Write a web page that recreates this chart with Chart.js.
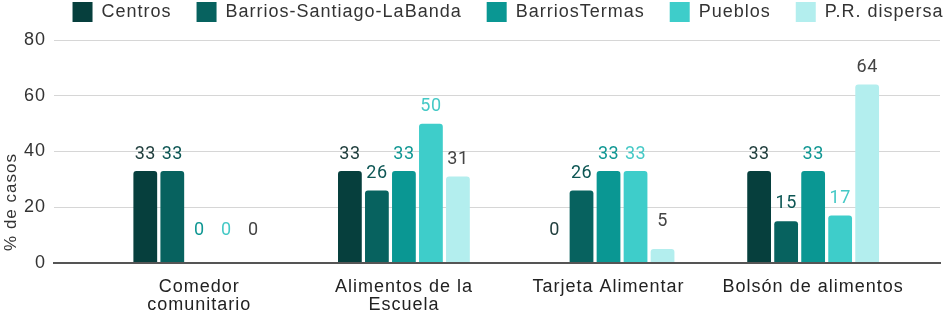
<!DOCTYPE html>
<html>
<head>
<meta charset="utf-8">
<script src="https://cdn.jsdelivr.net/npm/chart.js@4.4.1/dist/chart.umd.min.js"></script>
<style>
  html, body { margin: 0; padding: 0; background: #fff; overflow: hidden; }
  canvas { display: block; }
</style>
</head>
<body>
<canvas id="c" width="952" height="329"></canvas>
<script>
const categories = [["Comedor", "comunitario"], ["Alimentos de la", "Escuela"], "Tarjeta Alimentar", "Bolsón de alimentos"];
const seriesNames = ["Centros", "Barrios-Santiago-LaBanda", "BarriosTermas", "Pueblos", "P.R. dispersa"];
const centros = [33, 33, 0, 33];
const barriosSantiago = [33, 26, 26, 15];
const barriosTermas = [0, 33, 33, 33];
const pueblos = [0, 50, 33, 17];
const prDispersa = [0, 31, 5, 64];
const yTicks = [0, 20, 40, 60, 80];

const barColors = ["#063f3d", "#07625f", "#0a9793", "#3ecdca", "#b3eeee"];
const labelColors = ["#213f3e", "#0d5654", "#109793", "#45c9c6", "#444444"];
const allSeries = [centros, barriosSantiago, barriosTermas, pueblos, prDispersa];

// the original text is a little wider than the local fonts
const spacing = {
  id: "spacing",
  beforeLayout(chart) { chart.ctx.letterSpacing = "1px"; },
  beforeDraw(chart) {
    chart.ctx.letterSpacing = "1px";
    // legend in the original sits right of centre, runs off the edge and hugs the top
    const lg = chart.legend;
    if (lg && !lg._shifted) {
      lg.left += 30;
      lg.right += 30;
      lg.top -= 8;
      lg.bottom -= 8;
      lg._shifted = true;
    }
  },
};

const valueLabels = {
  id: "valueLabels",
  afterDatasetsDraw(chart) {
    const ctx = chart.ctx;
    const y = chart.scales.y;
    ctx.save();
    ctx.letterSpacing = "0.5px";
    ctx.font = "18px Roboto";
    ctx.textAlign = "center";
    ctx.textBaseline = "bottom";
    chart.data.datasets.forEach((ds, i) => {
      chart.getDatasetMeta(i).data.forEach((bar, j) => {
        const v = ds.data[j].y;
        const gap = Math.max(8, 24 - v);
        ctx.fillStyle = labelColors[i];
        ctx.fillText(String(v), bar.x, y.getPixelForValue(v) - gap);
      });
    });
    ctx.restore();
  }
};

const yTitle = {
  id: "yTitle",
  afterDraw(chart) {
    const ctx = chart.ctx;
    ctx.save();
    ctx.translate(11, 202);
    ctx.rotate(-Math.PI / 2);
    ctx.font = "17px 'Liberation Sans'";
    ctx.fillStyle = "#333";
    ctx.textAlign = "center";
    ctx.textBaseline = "middle";
    ctx.fillText("% de casos", 0, 0);
    ctx.restore();
  }
};

new Chart(document.getElementById("c"), {
  type: "bar",
  data: {
    datasets: seriesNames.map((name, i) => ({
      label: name,
      data: allSeries[i].map((v, j) => ({ x: j, y: v })),
      backgroundColor: barColors[i],
      borderRadius: 3,
      borderSkipped: "bottom",
      barPercentage: 0.88,
      categoryPercentage: 0.66,
    })),
  },
  options: {
    responsive: false,
    animation: false,
    layout: { padding: { left: 16, right: 12, top: -15, bottom: 0 } },
    plugins: {
      legend: {
        position: "top",
        labels: {
          boxWidth: 20,
          boxHeight: 20,
          padding: 25,
          color: "#333",
          font: { family: "'Liberation Sans'", size: 18 },
        },
      },
      tooltip: { enabled: false },
    },
    scales: {
      x: {
        type: "linear",
        offset: false,
        min: -0.71,
        max: 3.62,
        grid: { display: false, drawTicks: false },
        border: { display: true, color: "#555", width: 2 },
        ticks: {
          stepSize: 1,
          includeBounds: false,
          autoSkip: false,
          maxRotation: 0,
          padding: 15,
          color: "#222",
          font: { family: "'Liberation Sans'", size: 18, lineHeight: 1.0 },
          callback(value) {
            return Number.isInteger(value) ? categories[value] : "";
          },
        },
      },
      y: {
        min: 0,
        max: 80,
        afterBuildTicks(scale) {
          scale.ticks = yTicks.map((v) => ({ value: v }));
        },
        grid: {
          color: (c) => (c.tick && c.tick.value === 0 ? "#555" : "#d6d6d6"),
          lineWidth: (c) => (c.tick && c.tick.value === 0 ? 2 : 1),
          drawTicks: false,
        },
        border: { display: false },
        ticks: {
          padding: 8,
          color: "#333",
          font: { family: "'Liberation Sans'", size: 18 },
        },
      },
    },
  },
  plugins: [spacing, valueLabels, yTitle],
});
</script>
</body>
</html>
